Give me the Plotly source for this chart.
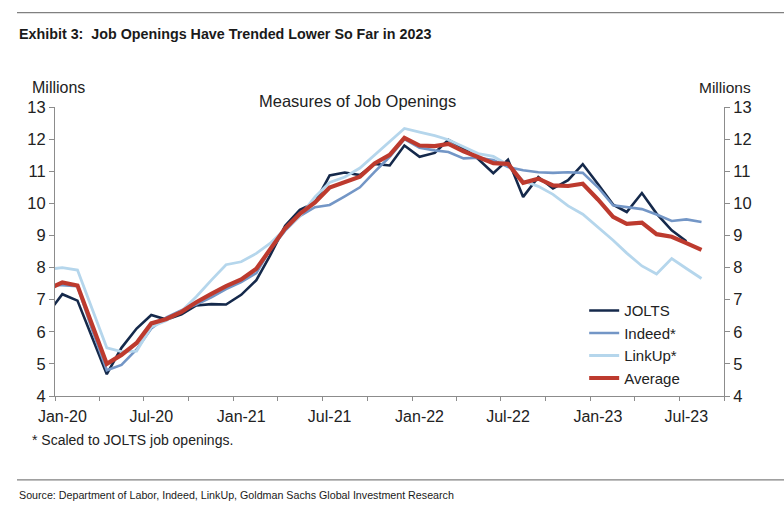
import pandas as pd
import plotly.graph_objects as go

# Monthly observations, Dec-2019 .. Aug-2023 (Dec-19 only feeds the clipped start of the lines)
months = pd.date_range("2019-12-01", periods=45, freq="MS") + pd.Timedelta(days=15)

jolts = [6.55, 7.17, 6.97, 5.85, 4.68, 5.50, 6.10, 6.52, 6.38, 6.54, 6.82, 6.86, 6.85,
         7.15, 7.61, 8.37, 9.30, 9.80, 10.02, 10.87, 10.96, 10.88, 11.23, 11.18, 11.80,
         11.45, 11.57, 11.98, 11.72, 11.38, 10.94, 11.36, 10.20, 10.82, 10.46, 10.72,
         11.22, 10.60, 9.96, 9.73, 10.32, 9.68, 9.16, 8.82, None]
indeed = [7.45, 7.45, 7.42, 6.10, 4.80, 4.97, 5.45, 6.10, 6.45, 6.67, 6.85, 7.07, 7.33,
          7.55, 7.83, 8.55, 9.15, 9.60, 9.88, 9.95, 10.22, 10.50, 10.98, 11.45, 12.00,
          11.73, 11.65, 11.60, 11.40, 11.42, 11.35, 11.13, 11.03, 10.97, 10.95, 10.97,
          10.95, 10.50, 9.94, 9.89, 9.82, 9.65, 9.45, 9.50, 9.42]
linkup = [7.94, 8.00, 7.92, 6.72, 5.50, 5.38, 5.40, 6.15, 6.35, 6.65, 7.09, 7.61, 8.09,
          8.18, 8.44, 8.75, 9.20, 9.60, 10.20, 10.65, 10.82, 11.10, 11.50, 11.90, 12.33,
          12.22, 12.11, 11.98, 11.75, 11.55, 11.46, 11.20, 10.70, 10.53, 10.28, 9.92,
          9.66, 9.26, 8.85, 8.45, 8.05, 7.80, 8.28, 7.97, 7.66]
average = [7.31, 7.54, 7.44, 6.22, 5.00, 5.28, 5.65, 6.26, 6.40, 6.62, 6.92, 7.18, 7.42,
           7.63, 7.96, 8.56, 9.22, 9.67, 10.03, 10.49, 10.67, 10.83, 11.24, 11.51, 12.04,
           11.80, 11.78, 11.85, 11.62, 11.45, 11.25, 11.23, 10.64, 10.77, 10.56, 10.54,
           10.61, 10.12, 9.58, 9.36, 9.40, 9.04, 8.96, 8.76, 8.55]

tick_dates = ["2020-01-16", "2020-07-16", "2021-01-16", "2021-07-16",
              "2022-01-16", "2022-07-16", "2023-01-16", "2023-07-16"]
tick_labels = ["Jan-20", "Jul-20", "Jan-21", "Jul-21", "Jan-22", "Jul-22", "Jan-23", "Jul-23"]
y_ticks = list(range(4, 14))

FONT = "Liberation Sans, Arial, sans-serif"
AXIS = "#8c8c8c"
TXT = "#222222"

series = [
    ("JOLTS", jolts, "#15294B", 2.6),
    ("Indeed*", indeed, "#7396C6", 2.6),
    ("LinkUp*", linkup, "#B5D6EC", 2.8),
    ("Average", average, "#BD3A2E", 4.2),
]

fig = go.Figure()
for i, (name, vals, color, w) in enumerate(series):
    fig.add_trace(go.Scatter(x=months, y=vals, name=name, mode="lines",
                             line=dict(color=color, width=w),
                             legendgroup=f"g{i}", hoverinfo="x+y+name"))
# invisible companion so the right-hand axis is drawn
fig.add_trace(go.Scatter(x=months, y=average, yaxis="y2", mode="lines",
                         line=dict(width=0), opacity=0, showlegend=False, hoverinfo="skip"))

fig.update_layout(
    width=784, height=510,
    margin=dict(l=55, r=60, t=106.5, b=114),
    paper_bgcolor="white", plot_bgcolor="white",
    font=dict(family=FONT, color=TXT, size=16),
    showlegend=True,
    legend=dict(x=0.791, y=0.352, xanchor="left", yanchor="top",
                font=dict(size=15, family=FONT, color=TXT),
                bgcolor="rgba(0,0,0,0)", tracegroupgap=5, itemwidth=30,
                traceorder="normal"),
    xaxis=dict(type="date", range=["2020-01-01", "2023-10-01"],
               tickmode="array", tickvals=tick_dates, ticktext=tick_labels,
               ticks="", showgrid=False, zeroline=False,
               showline=True, linecolor=AXIS, linewidth=1,
               tickfont=dict(size=16, family=FONT, color=TXT),
               ticklabelstandoff=6,
               minor=dict(ticks="outside", dtick="M3", tick0="2020-01-01",
                          ticklen=4, tickcolor=AXIS, tickwidth=1, showgrid=False)),
    yaxis=dict(range=[4, 13], tickmode="array", tickvals=y_ticks,
               ticks="outside", ticklen=5, tickcolor=AXIS, tickwidth=1,
               showgrid=False, zeroline=False,
               showline=True, linecolor=AXIS, linewidth=1,
               tickfont=dict(size=16.5, family=FONT, color=TXT)),
    yaxis2=dict(range=[4, 13], overlaying="y", side="right",
                tickmode="array", tickvals=y_ticks,
                ticks="outside", ticklen=5, tickcolor=AXIS, tickwidth=1,
                showgrid=False, zeroline=False,
                showline=True, linecolor=AXIS, linewidth=1,
                tickfont=dict(size=16.5, family=FONT, color=TXT)),
)

annotations = [
    dict(text="<b>Exhibit 3:  Job Openings Have Trended Lower So Far in 2023</b>",
         x=17, y=33, font=dict(family=FONT, size=14.3, color="#1a1a1a")),
    dict(text="Millions", x=30, y=87, font=dict(size=16)),
    dict(text="Millions", x=697, y=87, font=dict(size=15.5)),
    dict(text="Measures of Job Openings", x=257, y=100, font=dict(size=16.5)),
    dict(text="* Scaled to JOLTS job openings.", x=30, y=440, font=dict(size=14)),
    dict(text="Source: Department of Labor, Indeed, LinkUp, Goldman Sachs Global Investment Research",
         x=17, y=495, font=dict(family=FONT, size=10.7, color="#1a1a1a")),
]
for a in annotations:
    fig.add_annotation(text=a["text"], xref="paper", yref="paper",
                       x=(a["x"] - 55) / 669, y=(396 - a["y"]) / 289.5,
                       xanchor="left", yanchor="middle", showarrow=False,
                       font=a["font"])

for ypix in (12, 480):
    fig.add_shape(type="line", xref="paper", yref="paper",
                  x0=(17 - 55) / 669, x1=(784 - 55) / 669,
                  y0=(396 - ypix) / 289.5, y1=(396 - ypix) / 289.5,
                  line=dict(color="#808080", width=1.3))

fig.write_html("out.html", config={"displayModeBar": False},
               post_script="document.body.style.margin='0px';document.body.style.overflow='hidden';")
